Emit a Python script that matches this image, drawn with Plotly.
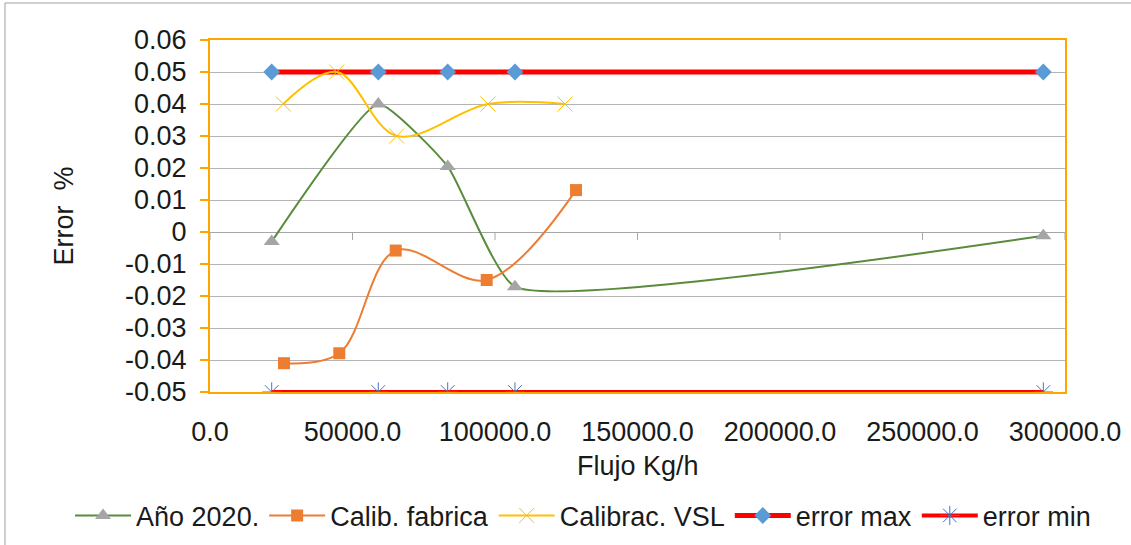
import plotly.graph_objects as go

# ---- data ----
x_anio = [21650, 59050, 83400, 107000, 292400]
y_anio = [-0.003, 0.040, 0.0205, -0.0171, -0.0012]

x_fabrica = [25960, 45370, 65160, 97090, 128420]
y_fabrica = [-0.041, -0.0379, -0.0058, -0.015, 0.0131]

x_vsl = [25720, 44460, 65510, 97540, 124560]
y_vsl = [0.040, 0.050, 0.030, 0.040, 0.040]

x_err = [21650, 59050, 83400, 107000, 292400]
y_err_max = [0.05, 0.05, 0.05, 0.05, 0.05]
y_err_min = [-0.05, -0.05, -0.05, -0.05, -0.05]

y_tick_vals = [0.06, 0.05, 0.04, 0.03, 0.02, 0.01, 0, -0.01, -0.02, -0.03, -0.04, -0.05]
y_tick_text = ["0.06", "0.05", "0.04", "0.03", "0.02", "0.01", "0", "-0.01", "-0.02", "-0.03", "-0.04", "-0.05"]
x_tick_vals = [0, 50000, 100000, 150000, 200000, 250000, 300000]

X_TITLE = "Flujo Kg/h"
Y_TITLE = "Error\u00a0 %"

FONT = "Liberation Sans, Arial, sans-serif"
TXT = "#1a1a1a"
FRAME = "#FFA500"

fig = go.Figure()

fig.add_trace(go.Scatter(
    x=x_err, y=y_err_max, name="error max", mode="lines+markers",
    line=dict(color="#FF0000", width=5),
    marker=dict(symbol="diamond", size=13, color="#5B9BD5"),
    legendrank=4))
fig.add_trace(go.Scatter(
    x=x_err, y=y_err_min, name="error min", mode="lines+markers",
    line=dict(color="#FF0000", width=4),
    marker=dict(symbol="asterisk-open", size=16, color="#4472C4",
                line=dict(color="#5B7FD6", width=1)),
    legendrank=5))
fig.add_trace(go.Scatter(
    x=x_anio, y=y_anio, name="Año 2020.", mode="lines+markers",
    line=dict(color="#588C3C", width=2, shape="spline", smoothing=0.45),
    marker=dict(symbol="triangle-up", size=14, color="#A5A5A5"),
    legendrank=1))
fig.add_trace(go.Scatter(
    x=x_fabrica, y=y_fabrica, name="Calib. fabrica", mode="lines+markers",
    line=dict(color="#ED7D31", width=2, shape="spline", smoothing=1),
    marker=dict(symbol="square", size=12, color="#ED7D31"),
    legendrank=2))
fig.add_trace(go.Scatter(
    x=x_vsl, y=y_vsl, name="Calibrac. VSL", mode="lines+markers",
    line=dict(color="#FFC000", width=2, shape="spline", smoothing=1),
    marker=dict(symbol="x-thin-open", size=15, color="#FFC000",
                line=dict(color="#FFC000", width=1)),
    legendrank=3))

shapes = []
# small tick marks on the y=0 line
for xv in x_tick_vals:
    shapes.append(dict(type="line", xref="x", yref="y", ysizemode="pixel",
                       yanchor=0, x0=xv, x1=xv, y0=-8, y1=0,
                       line=dict(color="#A6A6A6", width=1)))
# outer chart border (top and left edges visible)
shapes.append(dict(type="line", xref="paper", yref="paper", x0=-0.2398, x1=1.08,
                   y0=1.1051, y1=1.1051, line=dict(color="#A0A0A0", width=1)))
shapes.append(dict(type="line", xref="paper", yref="paper", x0=-0.2398, x1=-0.2398,
                   y0=-0.45, y1=1.1051, line=dict(color="#A0A0A0", width=1)))

fig.update_layout(
    width=1131, height=545,
    margin=dict(l=210, r=66, t=40, b=153, autoexpand=False),
    paper_bgcolor="white", plot_bgcolor="white",
    font=dict(family=FONT, color=TXT, size=27),
    showlegend=True,
    legend=dict(orientation="h", x=-0.1637, xanchor="left", y=-0.352, yanchor="middle",
                font=dict(size=27, family=FONT, color=TXT), itemwidth=56,
                bgcolor="rgba(0,0,0,0)", tracegroupgap=0),
    shapes=shapes,
    annotations=[dict(text=X_TITLE, xref="paper", yref="paper", x=0.5, y=-0.2102,
                      xanchor="center", yanchor="middle", showarrow=False,
                      font=dict(size=27, family=FONT, color=TXT))],
)

fig.update_xaxes(
    range=[0, 300000], tickvals=x_tick_vals, tickformat=".1f",
    showgrid=False, zeroline=False, automargin=False,
    showline=True, mirror=True, linecolor=FRAME, linewidth=2,
    ticks="outside", ticklen=15, tickcolor="rgba(0,0,0,0)",
    tickfont=dict(size=27, family=FONT, color=TXT),
)
fig.update_yaxes(
    range=[-0.05, 0.06], tickvals=y_tick_vals, ticktext=y_tick_text,
    showgrid=True, gridcolor="#B4B4B4", gridwidth=1, automargin=False,
    zeroline=True, zerolinecolor="#A6A6A6", zerolinewidth=1,
    showline=True, mirror=True, linecolor=FRAME, linewidth=2,
    ticks="outside", ticklen=8, tickcolor=FRAME, tickwidth=2,
    ticklabelstandoff=8,
    tickfont=dict(size=27, family=FONT, color=TXT),
    title=dict(text=Y_TITLE, font=dict(size=27, family=FONT, color=TXT), standoff=44),
)

fig.write_html("out.html", config={"displayModeBar": False},
               post_script="document.body.style.margin='0';")
